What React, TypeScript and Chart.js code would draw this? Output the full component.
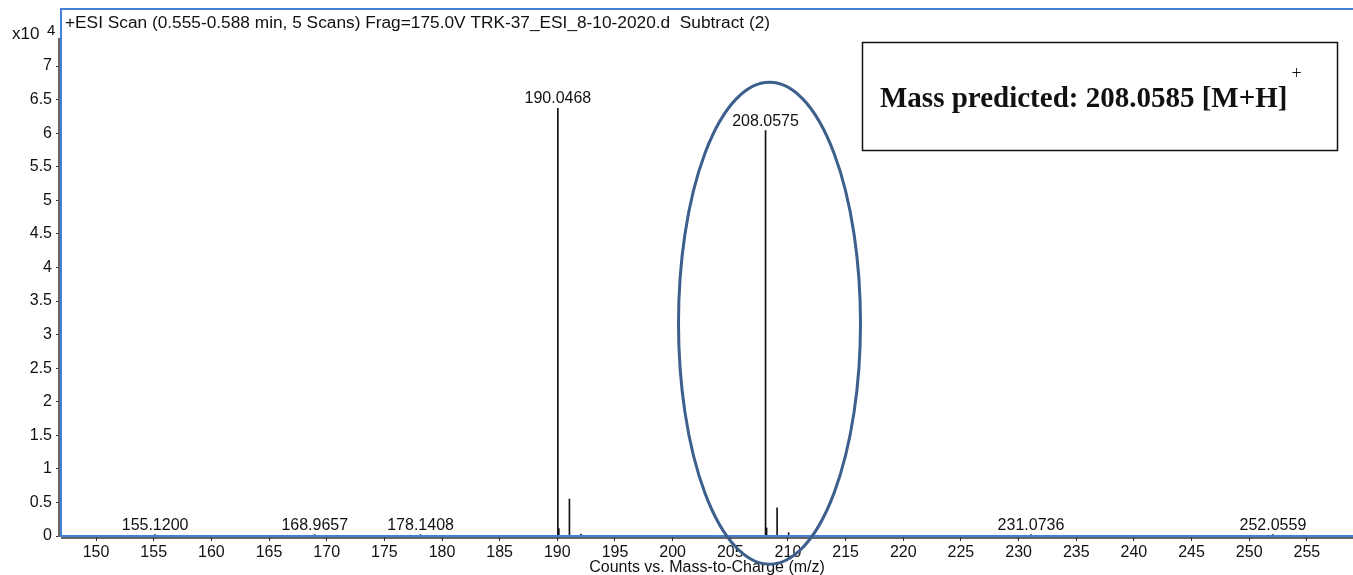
import React, { useEffect, useRef } from 'react';
import { Chart, registerables } from 'chart.js';

Chart.register(...registerables);

// Centroided peaks: m/z and intensity in units of 10^4 counts
const peakMz = [155.12, 168.9657, 178.1408, 190.0468, 190.13, 191.05, 192.05, 193.05, 205.1, 208.0575, 208.15, 209.06, 210.06, 231.0736, 252.0559];
const peakIntensity = [0.02, 0.02, 0.02, 6.37, 0.11, 0.55, 0.03, 0.01, 0.01, 6.04, 0.12, 0.42, 0.05, 0.02, 0.02];

// Peaks annotated with their m/z
const labelledMz = [155.12, 168.9657, 178.1408, 190.0468, 208.0575, 231.0736, 252.0559];
const labelledText = ['155.1200', '168.9657', '178.1408', '190.0468', '208.0575', '231.0736', '252.0559'];

const xTicks = [150, 155, 160, 165, 170, 175, 180, 185, 190, 195, 200, 205, 210, 215, 220, 225, 230, 235, 240, 245, 250, 255];
const yTicks = [0, 0.5, 1, 1.5, 2, 2.5, 3, 3.5, 4, 4.5, 5, 5.5, 6, 6.5, 7];
const yTickLabels = ['0', '0.5', '1', '1.5', '2', '2.5', '3', '3.5', '4', '4.5', '5', '5.5', '6', '6.5', '7'];

const scanTitle = '+ESI Scan (0.555-0.588 min, 5 Scans) Frag=175.0V TRK-37_ESI_8-10-2020.d  Subtract (2)';
const xAxisTitle = 'Counts vs. Mass-to-Charge (m/z)';
const predictedText = 'Mass predicted: 208.0585 [M+H]';

// Highlight ellipse around the target ion (centre in data units)
const highlightCentre = { x: 208.4, y: 3.17 };

const SANS = '"Liberation Sans", Arial, Helvetica, sans-serif';
const SERIF = '"Liberation Serif", "Times New Roman", Times, serif';

const decorations = {
  id: 'decorations',
  afterDatasetsDraw(chart: any) {
    const { ctx, chartArea, scales } = chart;
    const xs = scales.x;
    const ys = scales.y;
    ctx.save();

    // peak labels
    ctx.fillStyle = '#111';
    ctx.font = `16px ${SANS}`;
    ctx.textAlign = 'center';
    ctx.textBaseline = 'alphabetic';
    labelledMz.forEach((mz, i) => {
      const idx = peakMz.indexOf(mz);
      const h = idx >= 0 ? peakIntensity[idx] : 0;
      const px = xs.getPixelForValue(mz);
      const py = ys.getPixelForValue(h);
      ctx.fillText(labelledText[i], px, py - 5);
    });

    // frame
    ctx.strokeStyle = '#4680d6';
    ctx.lineWidth = 2;
    ctx.beginPath();
    ctx.moveTo(chartArea.right, chartArea.top);
    ctx.lineTo(chartArea.left, chartArea.top);
    ctx.lineTo(chartArea.left, chartArea.bottom);
    ctx.lineTo(chartArea.right, chartArea.bottom);
    ctx.stroke();
    ctx.strokeStyle = '#333';
    ctx.lineWidth = 1.5;
    ctx.beginPath();
    ctx.moveTo(chartArea.left, chartArea.bottom + 2);
    ctx.lineTo(chartArea.right, chartArea.bottom + 2);
    ctx.stroke();
    ctx.strokeStyle = '#666';
    ctx.lineWidth = 2;
    ctx.beginPath();
    ctx.moveTo(chartArea.left - 2, chartArea.top + 29);
    ctx.lineTo(chartArea.left - 2, chartArea.bottom + 1);
    ctx.stroke();

    // scan title
    ctx.fillStyle = '#111';
    ctx.font = `17.3px ${SANS}`;
    ctx.textAlign = 'left';
    ctx.textBaseline = 'middle';
    ctx.fillText(scanTitle, chartArea.left + 4, chartArea.top + 14);

    // exponent label
    ctx.font = `17px ${SANS}`;
    ctx.fillText('x10', 12, 34);
    ctx.font = `15px ${SANS}`;
    ctx.fillText('4', 47, 31);

    // predicted-mass box
    ctx.strokeStyle = '#111';
    ctx.lineWidth = 1.5;
    ctx.strokeRect(862.5, 42.5, 475, 108);
    ctx.font = `bold 29px ${SERIF}`;
    ctx.textBaseline = 'alphabetic';
    ctx.fillText(predictedText, 880, 107);
    const w = ctx.measureText(predictedText).width;
    ctx.font = `18px ${SERIF}`;
    ctx.fillText('+', 880 + w + 4, 79);

    // highlight ellipse
    ctx.strokeStyle = '#3c5f8c';
    ctx.lineWidth = 3;
    ctx.beginPath();
    ctx.ellipse(xs.getPixelForValue(highlightCentre.x), ys.getPixelForValue(highlightCentre.y), 91, 241, 0, 0, Math.PI * 2);
    ctx.stroke();

    ctx.restore();
  },
};

export default function App() {
  const canvasRef = useRef<HTMLCanvasElement | null>(null);

  useEffect(() => {
    const canvas = canvasRef.current;
    if (!canvas) return;
    const chart = new Chart(canvas, {
      type: 'bar',
      data: {
        datasets: [
          {
            data: peakMz.map((mz, i) => ({ x: mz, y: peakIntensity[i] })),
            backgroundColor: '#111',
            borderWidth: 0,
            barThickness: 1,
          } as any,
        ],
      },
      options: {
        responsive: false,
        animation: false,
        devicePixelRatio: 1,
        layout: { padding: { top: 9, left: 0, right: 0, bottom: 0 } },
        plugins: { legend: { display: false }, tooltip: { enabled: false }, title: { display: false } },
        scales: {
          x: {
            type: 'linear',
            min: 146.96,
            max: 259.0,
            offset: false,
            afterFit(scale: any) {
              scale.height = 39;
              scale.paddingLeft = 0;
              scale.paddingRight = 0;
            },
            afterBuildTicks(scale: any) {
              scale.ticks = xTicks.map((v) => ({ value: v }));
            },
            ticks: {
              color: '#111',
              font: { family: SANS, size: 16 },
              padding: 2,
              maxRotation: 0,
              autoSkip: false,
              callback: (v: any) => String(v),
            },
            grid: { display: true, offset: false, drawOnChartArea: false, tickLength: 5, color: '#333', tickColor: '#333' },
            border: { display: false },
            title: {
              display: true,
              text: xAxisTitle,
              color: '#111',
              font: { family: SANS, size: 16 },
              padding: { top: 0, bottom: -2 },
            },
          },
          y: {
            type: 'linear',
            min: 0,
            max: 7.85,
            afterFit(scale: any) {
              scale.width = 61;
              scale.paddingTop = 0;
              scale.paddingBottom = 0;
            },
            afterBuildTicks(scale: any) {
              scale.ticks = yTicks.map((v) => ({ value: v }));
            },
            ticks: {
              color: '#111',
              font: { family: SANS, size: 16 },
              padding: 4,
              autoSkip: false,
              callback: (_v: any, i: number) => yTickLabels[i],
            },
            grid: { display: true, drawOnChartArea: false, tickLength: 5, color: '#333', tickColor: '#333' },
            border: { display: false },
          },
        },
      },
      plugins: [decorations],
    });
    return () => chart.destroy();
  }, []);

  return (
    <div style={{ position: 'absolute', left: 0, top: 0, width: 1353, height: 575, background: '#fff' }}>
      <canvas ref={canvasRef} width={1353} height={575} />
    </div>
  );
}
